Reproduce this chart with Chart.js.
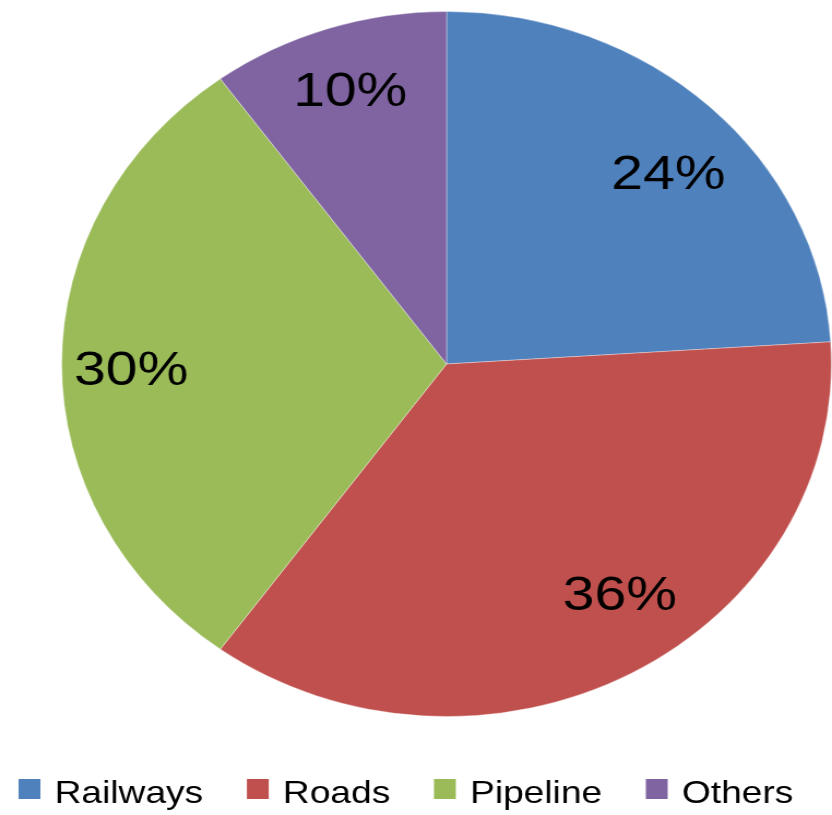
<!DOCTYPE html>
<html>
<head>
<meta charset="utf-8">
<script src="https://cdn.jsdelivr.net/npm/chart.js@4.4.1/dist/chart.umd.min.js"></script>
<style>
  html, body { margin: 0; padding: 0; background: #ffffff; overflow: hidden; }
  #myChart { display: block; width: 832px; height: 815px; }
</style>
</head>
<body>
<canvas id="myChart" width="762" height="815" style="width:832px;height:815px"></canvas>
<script>
const labels = ['Railways', 'Roads', 'Pipeline', 'Others']
const shares = [24, 36, 30, 10]
const colors = ['#4F81BD', '#C0504D', '#9BBB59', '#8064A2']

// where each percent label sits inside its slice (fraction of the sweep, fraction of radius)
const labelSpots = [[0.546, 0.786], [0.458, 0.80], [0.486, 0.82], [0.5, 0.81]]

const fontFamily = '"Liberation Sans", Arial, sans-serif'
const textStretch = 1.09

function wideText(ctx, text, x, y, k) {
  ctx.save()
  ctx.translate(x, y)
  ctx.scale(k, 1)
  ctx.fillText(text, 0, 0)
  ctx.restore()
}

const pctLabels = {
  id: 'pctLabels',
  afterDatasetsDraw(chart) {
    const ctx = chart.ctx
    const meta = chart.getDatasetMeta(0)
    ctx.save()
    ctx.font = '48px ' + fontFamily
    ctx.fillStyle = '#000000'
    ctx.textAlign = 'center'
    ctx.textBaseline = 'middle'
    meta.data.forEach(function(arc, i) {
      const p = arc.getProps(['x', 'y', 'startAngle', 'endAngle', 'outerRadius'], true)
      const a = p.startAngle + labelSpots[i][0] * (p.endAngle - p.startAngle)
      const r = labelSpots[i][1] * p.outerRadius
      wideText(ctx, shares[i] + '%', p.x + Math.cos(a) * r, p.y + Math.sin(a) * r, textStretch)
    })
    ctx.restore()
  }
}

// legend row under the pie, drawn by hand so it keeps on one line
const bottomLegend = {
  id: 'bottomLegend',
  afterDraw(chart) {
    const ctx = chart.ctx
    const box = 20
    const gapText = 13
    const gapItem = 40
    const k = 1.08
    let x = 17
    const boxTop = 779
    const baseline = 803
    ctx.save()
    ctx.font = '31.5px ' + fontFamily
    ctx.textAlign = 'left'
    ctx.textBaseline = 'alphabetic'
    labels.forEach(function(name, i) {
      ctx.fillStyle = colors[i]
      ctx.fillRect(x, boxTop, box, box)
      x += box + gapText
      ctx.fillStyle = '#000000'
      wideText(ctx, name, x, baseline, k)
      x += ctx.measureText(name).width * k + gapItem
    })
    ctx.restore()
  }
}

const ctx = document.getElementById('myChart').getContext('2d')

const config = {
  type: 'pie',
  data: {
    labels: labels,
    datasets: [{
      data: shares,
      backgroundColor: colors,
      borderColor: 'rgba(255,255,255,0.35)',
      borderWidth: 1
    }]
  },
  options: {
    responsive: false,
    animation: false,
    layout: { padding: { top: 11, left: 56, right: 0, bottom: 98 } },
    plugins: {
      tooltip: { enabled: false },
      legend: { display: false }
    }
  },
  plugins: [pctLabels, bottomLegend]
}

const myChart = new Chart(ctx, config)
</script>
</body>
</html>
